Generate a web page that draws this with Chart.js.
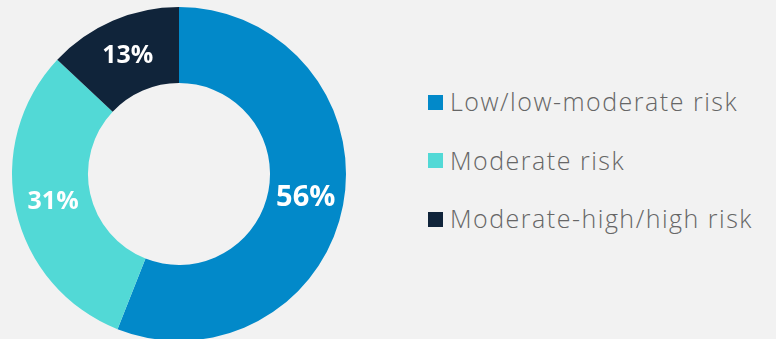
<!DOCTYPE html>
<html>
<head>
<meta charset="utf-8">
<script src="https://cdn.jsdelivr.net/npm/chart.js@4/dist/chart.umd.min.js"></script>
<style>
    html, body { margin: 0; padding: 0; background: #f2f2f2; overflow: hidden; }
    body { width: 776px; height: 339px; position: relative; font-family: "Open Sans", sans-serif; }
    #wrap { position: absolute; left: 0; top: 0; width: 358px; height: 348px; }
    #legend { position: absolute; left: 428px; top: 72px; margin: 0; padding: 0; list-style: none; }
    #legend li { height: 58.5px; display: flex; align-items: center; color: #666666; font-size: 25px; font-weight: 300; letter-spacing: 1.5px; white-space: nowrap; }
    #legend span.box { display: inline-block; width: 15px; height: 15px; margin-right: 7px; margin-top: 2px; }
</style>
</head>
<body>
<div id="wrap"><canvas id="myChart" width="358" height="348"></canvas></div>
<ul id="legend"></ul>
<script>
const labels = ['Low/low-moderate risk', 'Moderate risk', 'Moderate-high/high risk'];
const values = [56, 31, 13];
const colors = ['#0289c9', '#52d9d6', '#10243a'];

// percent labels in the ring
const ringLabels = {
    id: 'ringLabels',
    afterDatasetsDraw(chart) {
        const ctx = chart.ctx;
        const meta = chart.getDatasetMeta(0);
        ctx.save();
        ctx.fillStyle = '#ffffff';
        ctx.textAlign = 'center';
        ctx.textBaseline = 'middle';
        meta.data.forEach((arc, i) => {
            const p = arc.tooltipPosition();
            const size = i == 0 ? 29 : 25;
            ctx.font = 'bold ' + size + 'px "Open Sans"';
            ctx.fillText(values[i] + '%', p.x, p.y);
        });
        ctx.restore();
    }
};

const data = {
    labels: labels,
    datasets: [{
        data: values,
        backgroundColor: colors,
        borderWidth: 0
    }]
};

const config = {
    type: 'doughnut',
    data: data,
    options: {
        responsive: false,
        animation: false,
        cutout: '54.5%',
        layout: { padding: { left: 12, right: 12, top: 7, bottom: 7 } },
        plugins: {
            legend: { display: false },
            tooltip: { enabled: false }
        }
    },
    plugins: [ringLabels]
};

const myChart = new Chart(document.getElementById('myChart'), config);

const ul = document.getElementById('legend');
labels.forEach((l, i) => {
    const li = document.createElement('li');
    li.innerHTML = '<span class="box" style="background:' + colors[i] + '"></span>' + l;
    ul.appendChild(li);
});
</script>
</body>
</html>
